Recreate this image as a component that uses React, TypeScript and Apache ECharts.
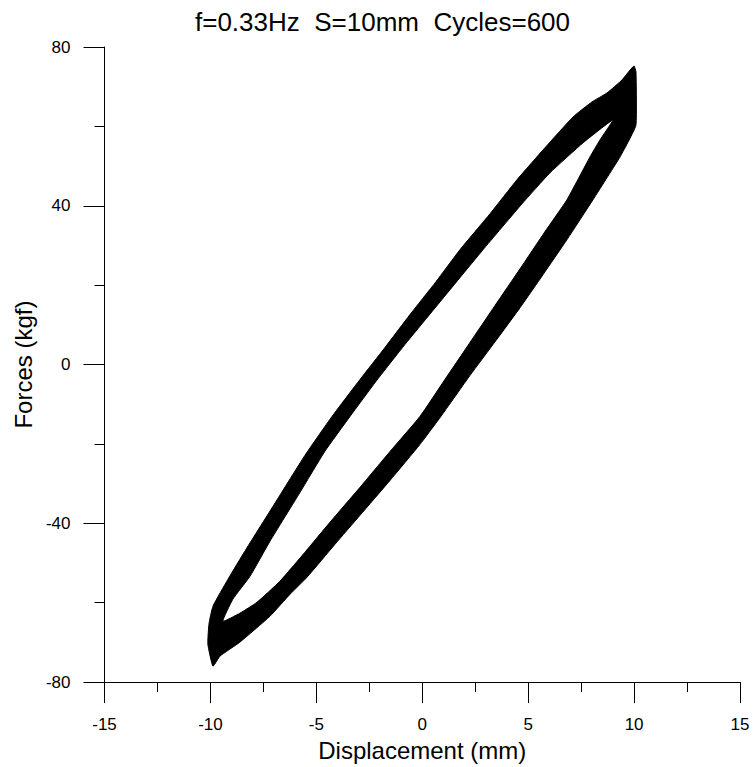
import React, { useEffect, useRef } from "react";
import * as echarts from "echarts";

// Chart texts
const titleText = "f=0.33Hz  S=10mm  Cycles=600";
const xAxisName = "Displacement (mm)";
const yAxisName = "Forces (kgf)";

// Axis ranges / ticks
const xMin = -15;
const xMax = 15;
const xStep = 5;
const yMin = -80;
const yMax = 80;
const yStep = 40;

// Outer envelope of the hysteresis band (displacement mm, force kgf)
const outerX = [-9.88, -10.12, -10.07, -9.88, -9.17, -8.32, -6.9, -5.54, -4.26, -2.94, -1.76, -0.58, 0.65, 1.78, 3.2, 4.47, 5.79, 7.12, 8.01, 8.72, 9.43, 9.81, 10.0, 10.09, 10.09, 9.72, 9.34, 8.72, 8.06, 6.83, 5.7, 4.62, 3.48, 2.25, 0.88, -0.11, -1.52, -2.94, -4.12, -5.44, -6.24, -7.19, -8.61, -9.55];
const outerY = [-75.97, -70.44, -65.41, -60.88, -54.09, -46.54, -34.47, -22.89, -13.08, -3.77, 4.28, 12.58, 20.88, 28.93, 37.99, 46.54, 54.59, 62.39, 66.16, 68.43, 71.7, 74.21, 75.22, 73.71, 60.38, 56.1, 52.33, 47.04, 41.51, 31.45, 22.64, 14.34, 6.04, -2.77, -13.08, -20.13, -29.18, -37.99, -45.28, -53.58, -57.86, -63.4, -69.94, -73.46];

// Inner envelope (the open area inside the loop)
const innerX = [-9.41, -8.94, -8.13, -7.19, -5.77, -4.6, -3.41, -2.19, -0.82, 0.46, 1.78, 2.87, 4.71, 6.03, 7.59, 9.0, 8.39, 7.92, 6.83, 5.79, 4.62, 3.43, 2.25, 1.07, -0.11, -1.52, -2.94, -4.36, -5.54, -6.72, -7.8, -8.61];
const innerY = [-64.65, -59.12, -53.33, -44.53, -32.2, -21.89, -13.08, -4.28, 5.03, 13.33, 21.89, 28.93, 40.5, 48.3, 55.85, 61.64, 56.6, 52.33, 41.51, 33.46, 24.15, 14.84, 5.53, -3.77, -13.08, -21.89, -30.94, -39.75, -47.3, -54.59, -59.87, -62.64];

const FONT = "'Liberation Sans', Arial, Helvetica, sans-serif";

export default function App() {
  const ref = useRef<HTMLDivElement>(null);

  useEffect(() => {
    if (!ref.current) return;
    const chart = echarts.init(ref.current, undefined, { renderer: "svg" });
    const axisCommon = {
      type: "value" as const,
      splitLine: { show: false },
      axisLine: { show: true, onZero: false, lineStyle: { color: "#000", width: 1 } },
      axisTick: { show: true, inside: false, length: 21, lineStyle: { color: "#000", width: 1 } },
      minorTick: { show: true, splitNumber: 2, length: 10, lineStyle: { color: "#000", width: 1 } },
      nameLocation: "middle" as const,
      nameTextStyle: { color: "#000", fontSize: 24, fontFamily: FONT },
    };
    chart.setOption({
      animation: false,
      backgroundColor: "#fff",
      title: {
        text: titleText,
        left: 190,
        top: 4,
        textStyle: { color: "#000", fontSize: 26, fontWeight: "normal", fontFamily: FONT },
      },
      grid: { left: 104.5, right: 14, top: 47, bottom: 84, containLabel: false },
      xAxis: {
        ...axisCommon,
        min: xMin,
        max: xMax,
        interval: xStep,
        name: xAxisName,
        nameGap: 50,
        axisLabel: { color: "#000", fontSize: 17, fontFamily: FONT, margin: 34 },
      },
      yAxis: {
        ...axisCommon,
        min: yMin,
        max: yMax,
        interval: yStep,
        name: yAxisName,
        nameGap: 64,
        nameRotate: 90,
        axisLabel: { color: "#000", fontSize: 17, fontFamily: FONT, margin: 34 },
      },
      series: [
        {
          type: "custom",
          coordinateSystem: "cartesian2d",
          clip: false,
          data: [[0, 0]],
          renderItem: (_params: any, api: any) => {
            const outer = outerX.map((x, i) => api.coord([x, outerY[i]]));
            const inner = innerX.map((x, i) => api.coord([x, innerY[i]]));
            return {
              type: "group",
              children: [
                { type: "polygon", shape: { points: outer, smooth: 0.15 }, style: { fill: "#000", stroke: "#000", lineWidth: 1 } },
                { type: "polygon", shape: { points: inner, smooth: 0.15 }, style: { fill: "#fff", stroke: "#000", lineWidth: 1 } },
              ],
            };
          },
        },
      ],
    });
    return () => chart.dispose();
  }, []);

  return <div ref={ref} style={{ position: "fixed", left: 0, top: 0, width: 754, height: 767 }} />;
}
